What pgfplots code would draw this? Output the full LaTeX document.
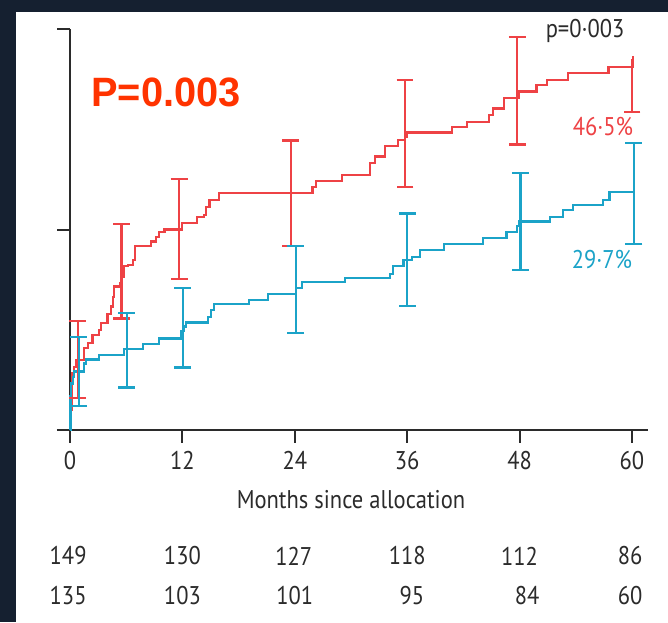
\documentclass[border=0pt]{standalone}
\usepackage{pgfplots}
\pgfplotsset{compat=1.18}
\usepackage{fontspec}
\setmainfont{PT Sans}[FakeStretch=0.88]
\newfontfamily\pfont{Liberation Sans}[FakeStretch=0.97]
\definecolor{kmred}{HTML}{EE4245}
\definecolor{kmblue}{HTML}{1BA3C8}
\definecolor{navy}{HTML}{152030}
\definecolor{ptxt}{HTML}{FF3300}
\definecolor{txt}{HTML}{2B2B2B}
\tikzset{lab/.style={text=txt, font=\fontsize{12.8}{14}\selectfont}}
\begin{document}
\begin{tikzpicture}
\useasboundingbox (-35pt,-96pt) rectangle (299pt,215pt);
\fill[white] (-35pt,-96pt) rectangle (299pt,215pt);
\fill[navy] (-35pt,209pt) rectangle (299pt,215pt);
\fill[navy] (-35pt,-96pt) rectangle (-27pt,215pt);
\begin{axis}[
  at={(0,0)}, anchor=origin,
  x=4.683pt, y=4.01pt,
  xmin=-1.4, xmax=61.7, ymin=0, ymax=50,
  axis lines=middle,
  axis line style={-, line width=1pt, color=txt},
  xtick={0,12,...,60}, ytick={25,50}, yticklabels={},
  hide obscured x ticks=false,
  tick align=outside,
  major tick length=6.3pt,
  tick style={line width=1pt, color=txt},
  /pgf/number format/assume math mode=true,
  xticklabel style={font=\fontsize{12.8}{14}\selectfont, text=txt, yshift=-1pt},
  clip=false,
]
% Kaplan-Meier curves
\addplot[const plot, kmred, line width=1.1pt] coordinates {
(0,0) (0.05,2.5) (0.2,7.1) (0.46,7.9) (0.7,8.7) (1.5,10.2) (1.9,10.8) (2.4,11.8)
(3.1,12.5) (3.3,13.3) (4.0,14.5) (4.4,15.4) (4.55,16.6) (4.7,17.9) (5.3,18.3)
(5.45,19.1) (5.8,20.4) (6.15,20.6) (6.7,21.2) (6.9,22.9) (8.65,23.5) (9.2,24.1)
(9.5,24.7) (10.1,25.0) (12.0,25.8) (13.6,26.6) (14.3,26.8) (14.5,27.8) (14.9,28.7)
(15.9,29.6) (25.9,30.3) (26.3,31.0) (29.0,31.8) (32.0,33.25) (32.6,34.1) (33.6,35.4)
(35.05,36.2) (35.77,36.6) (35.95,37.1) (40.75,37.8) (42.35,38.4) (44.7,39.3)
(45.2,40.1) (46.3,41.4) (47.9,42.2) (49.8,43.0) (50.9,43.6) (53.2,44.5) (57.5,45.3)
(60.15,46.5) (60.2,46.5)
};
\addplot[const plot, kmblue, line width=1.1pt] coordinates {
(0,0) (0.05,4.2) (0.14,5.8) (0.3,6.6) (0.46,7.3) (1.53,8.3) (1.7,8.8) (3.13,9.35)
(5.8,10.06) (7.76,10.7) (9.54,11.4) (11.85,12.3) (12.2,12.9) (12.4,13.4) (14.7,14.1)
(15.05,15.0) (15.4,15.7) (19.15,16.2) (21.1,17.0) (24.1,17.7) (24.77,18.5) (29.4,19.0)
(34.2,19.5) (34.5,20.4) (35.6,21.2) (36.5,21.6) (37.4,22.4) (39.9,23.2) (44.1,23.9)
(46.6,24.7) (47.7,25.4) (48.0,26.0) (51.25,26.6) (52.6,27.4) (53.7,28.05) (56.9,28.7)
(57.6,29.7) (60.2,29.7)
};
% error bars
\addplot[draw=none, mark=none, forget plot,
  error bars/.cd, y dir=both, y explicit,
  error bar style={draw=kmred, line width=1.05pt},
  error mark options={rotate=90, mark size=4.2pt, line width=1.05pt, draw=kmred}]
coordinates {
(0.82,8.8) +- (0,4.8)
(5.5,19.8) +- (0,5.9)
(11.65,25.05) +- (0,6.25)
(23.55,29.5) +- (0,6.6)
(35.77,36.95) +- (0,6.65)
(47.75,42.3) +- (0,6.7)
};
\addplot[draw=none, mark=none, forget plot,
  error bars/.cd, y dir=minus, y explicit,
  error bar style={draw=kmred, line width=1.05pt},
  error mark options={rotate=90, mark size=4.2pt, line width=1.05pt, draw=kmred}]
coordinates {
(60.0,46.3) +- (0,6.6)
};
\addplot[draw=none, mark=none, forget plot,
  error bars/.cd, y dir=both, y explicit,
  error bar style={draw=kmblue, line width=1.05pt},
  error mark options={rotate=90, mark size=4.2pt, line width=1.05pt, draw=kmblue}]
coordinates {
(0.93,7.3) +- (0,4.3)
(6.05,9.95) +- (0,4.65)
(12.03,12.75) +- (0,4.95)
(24.1,17.5) +- (0,5.4)
(36.0,21.25) +- (0,5.75)
(48.1,26.0) +- (0,6.0)
(60.2,29.5) +- (0,6.3)
};
% annotations
\node[lab] at (axis cs:55.0,49.75) {p=0·003};
\node[lab, text=kmred] at (axis cs:56.9,37.8) {46·5\%};
\node[lab, text=kmblue] at (axis cs:56.8,21.2) {29·7\%};
\node[text=ptxt, font=\pfont\bfseries\fontsize{20.5}{24}\selectfont] at (axis cs:10.25,42.1) {P=0.003};
\node[lab] at (axis cs:30,-8.7) {Months since allocation};
% numbers at risk
\node[lab] at (axis cs:-0.2,-15.7) {149};
\node[lab] at (axis cs:12,-15.7) {130};
\node[lab] at (axis cs:23.9,-15.7) {127};
\node[lab] at (axis cs:36.0,-15.7) {118};
\node[lab] at (axis cs:48.0,-15.7) {112};
\node[lab] at (axis cs:59.8,-15.7) {86};
\node[lab] at (axis cs:-0.2,-20.7) {135};
\node[lab] at (axis cs:12,-20.7) {103};
\node[lab] at (axis cs:24,-20.7) {101};
\node[lab] at (axis cs:36.5,-20.7) {95};
\node[lab] at (axis cs:48.8,-20.7) {84};
\node[lab] at (axis cs:59.8,-20.7) {60};
\end{axis}
\end{tikzpicture}
\end{document}
